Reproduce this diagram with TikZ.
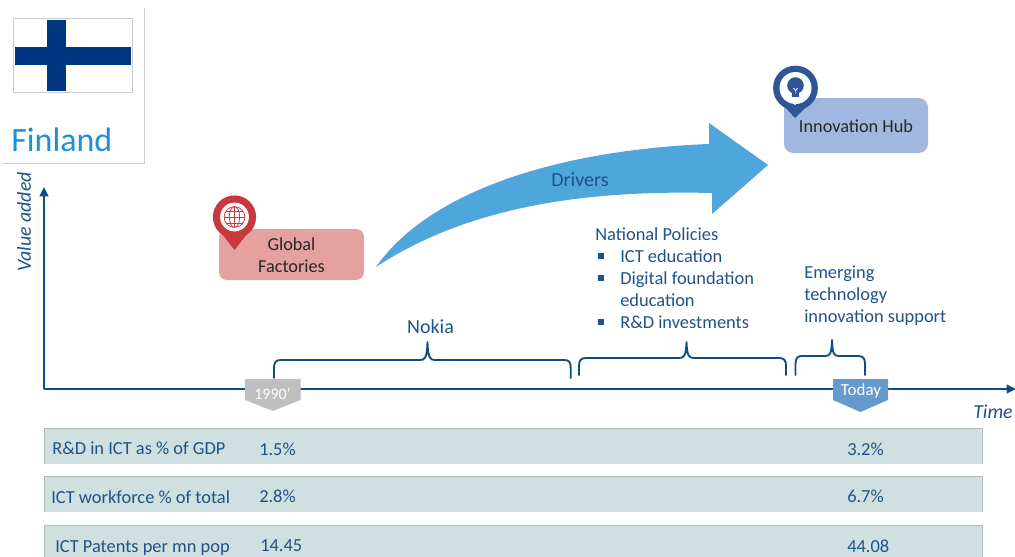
\documentclass[tikz,border=0pt]{standalone}
\usepackage{fontspec}
\setmainfont{Carlito}
\usetikzlibrary{arrows.meta}
\definecolor{navy}{HTML}{1F5288}
\definecolor{axisblue}{HTML}{0F4C85}
\definecolor{finblue}{HTML}{1E90D2}
\definecolor{flagblue}{HTML}{003580}
\definecolor{arrowblue}{HTML}{4FA6DC}
\definecolor{redfill}{HTML}{E5A0A0}
\definecolor{redpin}{HTML}{C8393F}
\definecolor{hubfill}{HTML}{A0B8E0}
\definecolor{hubpin}{HTML}{2F5597}
\definecolor{rowfill}{HTML}{D0E0E0}
\definecolor{greytag}{HTML}{C0BFBF}
\definecolor{bluetag}{HTML}{6699CC}
\tikzset{
  lbl/.style={anchor=west,inner sep=0pt,yshift=-1.5pt,text height=9.5pt,text depth=3pt,text=navy,font=\fontsize{13.8}{16}\selectfont},
  lblc/.style={anchor=center,inner sep=0pt,text=navy,font=\fontsize{15}{18}\selectfont},
  axislabel/.style={inner sep=0pt,text=navy,font=\fontsize{14.9}{18}\selectfont\itshape},
  darktext/.style={inner sep=0pt,align=center,text=black!85,font=\fontsize{13.7}{16.5}\selectfont},
  tagtext/.style={inner sep=0pt,text=white},
  axisline/.style={draw=axisblue,line width=1.5pt,-{Triangle[length=7pt,width=6.5pt]}},
  bracel/.style={draw=axisblue,line width=1.4pt,line cap=round,line join=round},
  bul/.style={fill=navy,minimum size=4pt,inner sep=0pt,draw=none},
}
\begin{document}
\begin{tikzpicture}[x=0.75pt,y=-0.75pt]
\useasboundingbox (0,0) rectangle (1015,557);
% Finland panel
\draw[black!20,line width=0.6pt] (144,8) -- (144,163) -- (2,163);
\fill[white,draw=black!20,line width=1.4pt] (13.5,18.5) rectangle (132.5,92.5);
\fill[flagblue] (47,20) rectangle (66,91);
\fill[flagblue] (15,47) rectangle (131,65);
\node[inner sep=0pt,text=finblue,font=\fontsize{25.5}{30}\selectfont,anchor=west] (fin) at (11,140) {Finland};
% axes
\coordinate (org) at (44,389);
\coordinate (ytop) at (44,187);
\coordinate (xend) at (1016,389);
\draw[axisline] (org) -- (ytop);
\draw[axisline] (org) -- (xend);
\node[axislabel,rotate=90] (va) at (24,222) {Value added};
\node[axislabel,anchor=east] (time) at (1013,412) {Time};
% big arrow
\fill[arrowblue] (376,267) .. controls (430,190) and (560,150) .. (709,144)
  -- (709,123) -- (768,165) -- (712,214) -- (712,193)
  .. controls (590,190) and (470,205) .. cycle;
\node[lblc] (drv) at (580,180) {Drivers};
% global factories
\node[fill=redfill,rounded corners=6pt,minimum width=108.75pt,minimum height=38.25pt,inner sep=0pt] (gfbox) at (291.5,254.5) {};
\node[darktext] (gf) at (291.5,255) {Global\\Factories};
\fill[redpin] (222,234) -- (234.5,250) -- (247,234) -- cycle;
\fill[redpin] (234.5,217) circle[radius=16.2pt];
\fill[white] (234.5,217) circle[radius=10.8pt];
\begin{scope}[redpin,line width=0.55pt]
  \draw (234.5,217) circle[radius=7.8pt];
  \draw (234.5,217) ellipse[x radius=3.9pt,y radius=7.8pt];
  \draw (234.5,206.6) -- (234.5,227.4);
  \draw (224.1,217) -- (244.9,217);
  \draw (226,211) -- (243,211);
  \draw (226,223) -- (243,223);
\end{scope}
% innovation hub
\node[fill=hubfill,rounded corners=7pt,minimum width=108pt,minimum height=41.25pt,inner sep=0pt] (hubbox) at (856,125.5) {};
\node[darktext,anchor=center] (hub) at (856,126.5) {Innovation Hub};
\fill[hubpin] (783,105) -- (795,118) -- (808,105) -- cycle;
\fill[hubpin] (795.5,88) circle[radius=16.8pt];
\fill[white] (795.5,88) circle[radius=12pt];
\fill[white] (791,102) -- (795,105) -- (799,102) -- cycle;
\fill[hubpin] (795.5,85.5) circle[radius=6.2pt];
\fill[hubpin] (792,90) rectangle (799,97);
\fill[white] (793,88) -- (795.5,91) -- (795.5,94) -- (796,94) -- (796,91) -- (798,88) -- (797,88) -- (795.7,90) -- (794,88) -- cycle;
% text blocks
\node[lbl] (np) at (595,234) {National Policies};
\node[bul] (b1) at (601,256) {};
\node[lbl] (t1) at (620,256) {ICT education};
\node[bul] (b2) at (601,278) {};
\node[lbl] (t2) at (620,278) {Digital foundation};
\node[lbl] (t2b) at (620,300) {education};
\node[bul] (b3) at (601,322) {};
\node[lbl] (t3) at (620,322) {R\&D investments};
\node[lbl] (e1) at (804,272) {Emerging};
\node[lbl] (e2) at (804,294) {technology};
\node[lbl] (e3) at (804,316) {innovation support};
\node[lblc] (nok) at (430.5,327) {Nokia};
% braces
\draw[bracel] (274,378) -- (274,368) .. controls (274,362) and (276,360) .. (281,360)
  -- (420,360) .. controls (425,360) and (427,358) .. (427.5,342)
  .. controls (428,358) and (430,360) .. (435,360)
  -- (564,360) .. controls (569,360) and (570.7,362) .. (570.7,368) -- (570.7,378);
\draw[bracel] (579,375) -- (579,366) .. controls (579,360) and (581,358) .. (586,358)
  -- (679,358) .. controls (684,358) and (686,356) .. (686.5,342)
  .. controls (687,356) and (689,358) .. (694,358)
  -- (779,358) .. controls (784,358) and (786,360) .. (786,366) -- (786,375);
\draw[bracel] (795.5,375) -- (795.5,364) .. controls (795.5,358) and (797.5,356) .. (802,356)
  -- (825,356) .. controls (830,356) and (831.5,354) .. (832,340)
  .. controls (832.5,354) and (834,356) .. (839,356)
  -- (858,356) .. controls (863,356) and (865,358) .. (865,364) -- (865,375);
% tags
\fill[greytag] (245,379) -- (300.5,379) -- (300.5,400) -- (273,411) -- (245,400) -- cycle;
\node[tagtext,font=\fontsize{12}{14}\selectfont] (y90) at (272.5,394) {1990’};
\fill[bluetag] (833,379) -- (888,379) -- (888,400) -- (860.5,412) -- (833,400) -- cycle;
\node[tagtext,font=\fontsize{12.7}{14}\selectfont] (tod) at (861,390.5) {Today};
% rows
\fill[rowfill] (44,428) rectangle (982,464);
\draw[black!28,line width=0.5pt] (44,464) -- (44,428) -- (982,428) -- (982,464);
\fill[rowfill] (44,476) rectangle (982,512);
\draw[black!28,line width=0.5pt] (44,512) -- (44,476) -- (982,476) -- (982,512);
\fill[rowfill] (44,525) rectangle (982,557);
\draw[black!28,line width=0.5pt] (44,557) -- (44,525) -- (982,525) -- (982,557);
\node[lbl] (r1) at (52,448) {R\&D in ICT as \% of GDP};
\node[lbl] (r1a) at (259,449) {1.5\%};
\node[lbl] (r1b) at (847,449) {3.2\%};
\node[lbl] (r2) at (51,497) {ICT workforce \% of total};
\node[lbl] (r2a) at (259,496) {2.8\%};
\node[lbl] (r2b) at (847,496) {6.7\%};
\node[lbl] (r3) at (55,546) {ICT Patents per mn pop};
\node[lbl] (r3a) at (260,545) {14.45};
\node[lbl] (r3b) at (847,546) {44.08};
\end{tikzpicture}
\end{document}
